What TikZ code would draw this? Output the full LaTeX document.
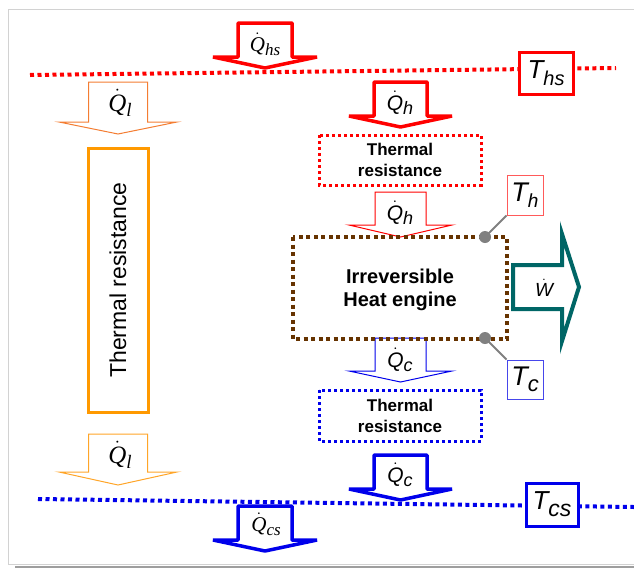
\documentclass[tikz,border=0pt]{standalone}
\usepackage{fontspec}
\setmainfont{Liberation Sans}
\newfontfamily\serif{Liberation Serif}
\definecolor{hsred}{RGB}{255,0,0}
\definecolor{thred}{RGB}{255,90,90}
\definecolor{csblue}{RGB}{0,0,235}
\definecolor{tcblue}{RGB}{70,70,235}
\definecolor{orA}{RGB}{244,125,50}
\definecolor{orB}{RGB}{255,165,40}
\definecolor{orBox}{RGB}{255,153,0}
\definecolor{brn}{RGB}{102,51,0}
\definecolor{tealw}{RGB}{0,102,102}
\definecolor{framec}{RGB}{210,210,210}
\definecolor{conn}{RGB}{128,128,128}
\newcommand\qd[1]{\ensuremath{\dot{\hbox{#1}}}}
\newcommand\barrow[7]{%
  \draw[#1] ({#2-#3},#4) -- ({#2+#3},#4) -- ({#2+#3},#5) -- ({#2+#6},#5) -- (#2,#7) -- ({#2-#6},#5) -- ({#2-#3},#5) -- cycle;}
\tikzset{
  thickarrow/.style={line width=3.5pt, fill=white, line join=bevel},
  thinarrow/.style={line width=1pt, fill=white},
  dotline/.style={line width=4pt, dash pattern=on 4pt off 3.5pt},
  dotbox/.style={line width=3pt, dash pattern=on 3pt off 3pt, fill=white},
  tbox/.style={draw, fill=white, inner sep=0pt},
  lab/.style={inner sep=0pt},
}
\begin{document}
\begin{tikzpicture}[x=1pt,y=-1pt]
\useasboundingbox (0,0) rectangle (634,568);
% frame
\draw[framec, line width=1pt] (634,9.5) -- (8,9.5) -- (8,564.5) -- (634,564.5);
\fill[black!38] (15,566) rectangle (634,568);
% temperature lines
\coordinate (rl1) at (30,75);
\coordinate (rl2) at (616,68);
\coordinate (bl1) at (38,499);
\coordinate (bl2) at (634,507);
\draw[dotline, draw=hsred] (rl1) -- (rl2);
\draw[dotline, draw=csblue] (bl1) -- (bl2);
\node[tbox, draw=hsred, line width=3pt, minimum width=54pt, minimum height=42pt] (ths) at (546,73)
  {\fontsize{26}{26}\selectfont\itshape T\raisebox{-7pt}{\fontsize{20}{20}\selectfont hs}};
\node[tbox, draw=csblue, line width=3pt, minimum width=52pt, minimum height=43pt] (tcs) at (552,504.5)
  {\fontsize{26}{26}\selectfont\itshape T\raisebox{-7pt}{\fontsize{23}{23}\selectfont cs}};
% block arrows
\barrow{thickarrow, draw=hsred}{265}{27}{23}{57}{52}{68}
\barrow{thinarrow, draw=orA}{118}{29.5}{82}{122}{59}{134}
\barrow{thickarrow, draw=hsred}{400.5}{26.5}{82}{116}{51.5}{127}
\barrow{thinarrow, draw=hsred}{400.5}{25.5}{192}{225}{51.5}{237}
\barrow{thinarrow, draw=csblue}{400.5}{25.5}{338}{371}{51.5}{382}
\barrow{thickarrow, draw=csblue}{400.5}{26.5}{455}{489}{51.5}{500}
\barrow{thinarrow, draw=orB}{118}{29.5}{434}{472}{59}{485}
\barrow{thickarrow, draw=csblue}{265}{27}{506}{540}{52}{551}
% arrow labels
\node[lab] (lqhs) at (265,44) {\fontsize{21}{21}\selectfont\serif\itshape\qd{Q}\raisebox{-4pt}{\fontsize{17}{17}\selectfont hs}};
\node[lab] (lql1) at (120,103) {\fontsize{25}{25}\selectfont\serif\itshape\qd{Q}\raisebox{-5pt}{\fontsize{19}{19}\selectfont l}};
\node[lab] (lqh1) at (400,103) {\fontsize{21}{21}\selectfont\itshape\qd{Q}\raisebox{-4pt}{\fontsize{18}{18}\selectfont h}};
\node[lab] (lqh2) at (400,213) {\fontsize{21}{21}\selectfont\itshape\qd{Q}\raisebox{-4pt}{\fontsize{18}{18}\selectfont h}};
\node[lab] (lqc1) at (400,360) {\fontsize{21}{21}\selectfont\itshape\qd{Q}\raisebox{-4pt}{\fontsize{18}{18}\selectfont c}};
\node[lab] (lqc2) at (400,475) {\fontsize{21}{21}\selectfont\itshape\qd{Q}\raisebox{-4pt}{\fontsize{18}{18}\selectfont c}};
\node[lab] (lql2) at (120,455) {\fontsize{25}{25}\selectfont\serif\itshape\qd{Q}\raisebox{-5pt}{\fontsize{19}{19}\selectfont l}};
\node[lab] (lqcs) at (266,524) {\fontsize{21}{21}\selectfont\serif\itshape\qd{Q}\raisebox{-4pt}{\fontsize{17}{17}\selectfont cs}};
% orange resistance
\node[draw=orBox, line width=3pt, fill=white, minimum width=60pt, minimum height=264pt, inner sep=0pt] (orbox) at (118,280) {};
\node[lab, rotate=90, font=\fontsize{23}{23}\selectfont] (ortext) at (118,280) {Thermal resistance};
% red and blue resistances
\draw[dotbox, draw=hsred] (319,135) rectangle (481,185);
\node[lab, align=center, font=\fontsize{17}{21}\selectfont\bfseries] (rtxt) at (400,160) {Thermal\\resistance};
\draw[dotbox, draw=csblue] (319,390) rectangle (481,441);
\node[lab, align=center, font=\fontsize{17}{21}\selectfont\bfseries] (btxt) at (400,415.5) {Thermal\\resistance};
% engine
\draw[line width=4pt, dash pattern=on 4pt off 3.5pt, draw=brn] (293,237) rectangle (507,339);
\node[lab, align=center, font=\fontsize{20}{23}\selectfont\bfseries] (eng) at (400,290) {Irreversible\\Heat engine};
% W arrow
\draw[line width=4pt, draw=tealw, fill=white, miter limit=20] (513,265) -- (562,265) -- (562,234) -- (579,287) -- (562,341) -- (562,309) -- (513,309) -- cycle;
\node[lab] (lw) at (544,288) {\fontsize{19}{19}\selectfont\itshape\qd{W}};
% Th and Tc
\node[tbox, draw=thred, line width=1pt, minimum width=36pt, minimum height=40pt] (th) at (525,195)
  {\fontsize{27}{27}\selectfont\itshape T\raisebox{-6pt}{\fontsize{19}{19}\selectfont h}};
\node[tbox, draw=tcblue, line width=1pt, minimum width=36pt, minimum height=39pt] (tc) at (525,379.5)
  {\fontsize{27}{27}\selectfont\itshape T\raisebox{-6pt}{\fontsize{22}{22}\selectfont c}};
\node[circle, fill=conn, minimum size=12pt, inner sep=0pt] (dh) at (485,237) {};
\node[circle, fill=conn, minimum size=12pt, inner sep=0pt] (dc) at (485,338) {};
\draw[conn, line width=2pt] (dh.center) -- (th.south west);
\draw[conn, line width=2pt] (dc.center) -- (tc.north west);
\end{tikzpicture}
\end{document}
